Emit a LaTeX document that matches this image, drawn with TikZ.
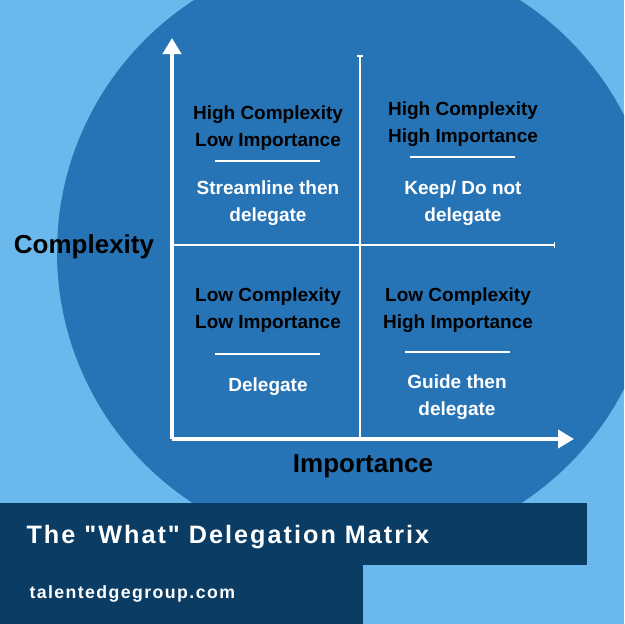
\documentclass[tikz,border=0pt]{standalone}
\usepackage{fontspec}
\setmainfont{Liberation Sans}
\newfontfamily\spaced[LetterSpace=8]{Liberation Sans}
\usetikzlibrary{arrows.meta}
\definecolor{bgl}{HTML}{6BB8EC}
\definecolor{circ}{HTML}{2674B5}
\definecolor{navy}{HTML}{0B3C64}
\begin{document}
\begin{tikzpicture}[x=1pt,y=-1pt,
  q/.style={font=\bfseries\fontsize{19}{27}\selectfont,align=center,text=black},
  a/.style={font=\bfseries\fontsize{19}{27}\selectfont,align=center,text=white},
  ax/.style={white,line width=4pt},
  mid/.style={white,line width=1.5pt},
  ul/.style={white,line width=2pt}]
\clip (0,0) rectangle (624,624);
\fill[bgl] (0,0) rectangle (624,624);
\fill[circ] (357,252) circle (300);
\fill[navy] (0,503) rectangle (587,565);
\fill[navy] (0,565) rectangle (363,624);
\node[anchor=west,text=white,font=\spaced\bfseries\fontsize{25.2}{28}\selectfont] (title) at (23,537) {The "What" Delegation Matrix};
\node[anchor=west,text=white,font=\spaced\bfseries\fontsize{17.7}{20}\selectfont] (url) at (26,594) {talentedgegroup.com};
% axes
\coordinate (o) at (172,439);
\coordinate (yt) at (172,38);
\coordinate (xt) at (574,439);
\draw[ax,-{Triangle[length=16pt,width=18pt]}] (o) -- (yt);
\draw[ax,-{Triangle[length=16pt,width=18pt]}] (o) -- (xt);
\coordinate (mt) at (360,55);
\coordinate (mb) at (360,439);
\coordinate (ml) at (172,245);
\coordinate (mr) at (555,245);
\draw[mid,-{Bar[width=6pt]}] (mb) -- (mt);
\draw[mid,-{Bar[width=6pt]}] (ml) -- (mr);
\node[font=\bfseries\fontsize{26}{28}\selectfont] (cx) at (84,247) {Complexity};
\node[font=\bfseries\fontsize{26}{28}\selectfont] (im) at (363,466) {Importance};
% quadrants
\node[q] (q1) at (268,128) {High Complexity\\Low Importance};
\draw[ul] (215,161) -- (320,161);
\node[a] (a1) at (268,203) {Streamline then\\delegate};
\node[q] (q2) at (463,124) {High Complexity\\High Importance};
\draw[ul] (410,157) -- (515,157);
\node[a] (a2) at (463,203) {Keep/ Do not\\delegate};
\node[q] (q3) at (268,310) {Low Complexity\\Low Importance};
\draw[ul] (215,354) -- (320,354);
\node[a] (a3) at (268,387) {Delegate};
\node[q] (q4) at (458,310) {Low Complexity\\High Importance};
\draw[ul] (405,352) -- (510,352);
\node[a] (a4) at (457,397) {Guide then\\delegate};
\end{tikzpicture}
\end{document}
